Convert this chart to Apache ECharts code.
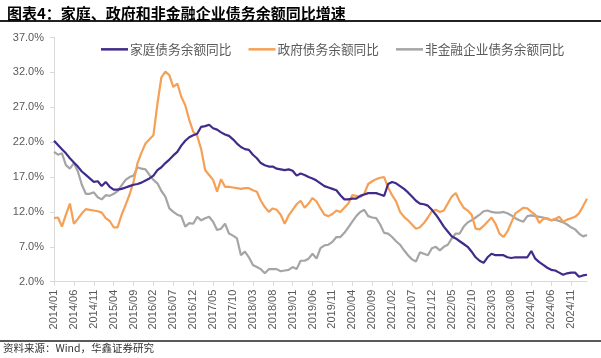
<!DOCTYPE html>
<html><head><meta charset="utf-8">
<script src="https://cdn.jsdelivr.net/npm/echarts@6/dist/echarts.min.js"></script>
<style>html,body{margin:0;padding:0;background:#fff}#c{width:601px;height:358px}</style>
</head><body><div id="c"></div>
<script>
// Categories: monthly 2014/01 .. 2025/03
const categories = [];
for (let y = 2014; y <= 2025; y++) {
  for (let m = 1; m <= 12; m++) {
    if (y === 2025 && m > 3) break;
    categories.push(y + '/' + (m < 10 ? '0' + m : m));
  }
}
const seriesNames = ['家庭债务余额同比', '政府债务余额同比', '非金融企业债务余额同比'];
const household = [22.2,21.6,21.0,20.4,19.7,19.1,18.5,17.8,17.3,16.8,16.3,16.4,15.7,16.3,15.6,15.2,15.2,15.3,15.5,15.7,15.9,16.0,16.2,16.5,16.8,17.2,18.0,18.4,19.0,19.5,20.1,20.6,21.5,22.2,22.7,23.0,23.2,24.2,24.3,24.5,24.0,23.8,23.4,23.1,22.9,22.4,21.8,21.3,21.0,20.9,20.2,19.7,19.0,18.7,18.5,18.5,18.2,18.1,18.0,18.1,17.9,17.2,17.5,17.3,17.0,16.8,16.5,16.1,15.7,15.5,15.3,15.1,14.4,13.8,13.8,13.9,13.9,14.3,14.5,14.7,14.7,14.7,14.5,14.3,16.0,16.3,16.1,15.7,15.3,14.8,14.2,13.6,13.2,13.1,12.9,12.3,11.6,10.8,9.9,9.2,8.5,8.2,7.8,7.4,7.0,6.3,5.5,5.0,4.7,5.5,6.0,5.8,5.8,5.8,5.5,5.4,5.5,5.5,5.5,5.5,6.4,5.3,4.8,4.4,4.0,3.7,3.6,3.3,3.0,3.2,3.3,3.3,2.7,2.9,3.0];
const government = [11.1,11.2,9.9,11.6,13.2,10.3,11.0,11.8,12.4,12.3,12.2,12.1,11.9,11.1,10.7,9.8,9.8,11.6,13.0,14.5,16.3,19.0,20.5,21.8,22.4,23.0,27.5,31.3,32.1,31.6,29.9,30.4,28.5,27.3,25.2,23.5,22.9,21.0,18.0,17.3,16.6,14.9,16.7,15.6,15.6,15.5,15.4,15.3,15.4,15.4,15.1,14.9,13.6,12.7,12.0,12.5,12.3,11.6,10.3,11.5,12.3,13.1,13.6,12.6,13.2,14.0,13.5,12.5,11.6,11.4,11.7,12.2,12.0,12.6,13.2,14.4,14.3,14.1,14.6,16.0,16.4,16.7,16.9,17.0,15.5,14.4,13.5,12.0,11.3,10.8,10.2,9.6,9.8,10.4,11.2,12.1,12.3,12.0,12.2,13.2,14.2,14.7,13.5,12.6,12.2,11.6,9.6,9.5,10.0,10.6,11.2,10.3,8.9,8.4,9.2,10.5,11.8,12.2,12.6,12.5,12.0,11.6,10.4,11.0,11.1,10.8,11.0,11.3,10.6,10.9,11.1,11.3,11.8,12.8,13.9];
const corporate = [20.6,20.2,20.4,18.7,18.2,19.0,17.8,15.9,14.6,14.6,14.8,14.1,13.8,14.4,14.3,14.6,15.0,15.8,16.6,17.0,17.2,18.4,18.2,18.1,17.3,16.6,16.1,15.0,14.2,12.5,12.0,11.6,11.4,9.9,10.4,10.3,11.3,10.8,11.1,11.3,10.6,9.4,9.6,10.3,8.9,8.6,8.2,5.8,6.3,5.5,4.4,4.1,3.8,3.2,3.8,3.8,3.8,3.5,3.6,3.7,4.1,3.8,5.0,5.0,5.3,6.0,5.3,6.8,7.2,7.3,7.7,8.4,8.4,9.0,9.8,10.6,11.4,12.0,12.3,11.4,11.2,11.1,10.2,9.0,8.9,8.4,7.8,7.3,6.5,5.8,5.2,4.9,6.2,6.0,5.8,6.8,7.0,6.5,7.0,7.3,8.2,8.9,8.9,9.9,10.5,10.8,11.2,11.6,12.1,12.2,12.0,11.9,11.9,12.0,11.8,11.5,11.1,10.8,10.6,11.4,11.5,11.4,11.3,11.2,11.0,10.8,10.9,10.7,10.5,10.2,9.8,9.5,8.9,8.5,8.7];
const titleText = '图表4：家庭、政府和非金融企业债务余额同比增速';
const sourceText = '资料来源：Wind，华鑫证券研究';

const chart = echarts.init(document.getElementById('c'), null, {renderer: 'canvas'});
const colors = ['#402a8a', '#f5a055', '#a5a5a5'];
const lbl = {fontFamily: 'Liberation Sans, Arial, sans-serif', fontSize: 11, color: '#595959'};
chart.setOption({
  animation: false,
  backgroundColor: '#fff',
  color: colors,
  title: {
    text: titleText, left: 2, top: 1,
    textStyle: {fontFamily: 'Noto Sans CJK SC', fontWeight: 'bold', fontSize: 15, color: '#000'}
  },
  graphic: [
    {type: 'line', shape: {x1: 0, y1: 21, x2: 601, y2: 21}, style: {stroke: '#222', lineWidth: 2}},
    {type: 'line', shape: {x1: 0, y1: 341, x2: 601, y2: 341}, style: {stroke: '#222', lineWidth: 1.5}},
    {type: 'text', left: 3, top: 343, style: {text: sourceText, fontFamily: 'Noto Sans CJK SC', fontSize: 10.5, fill: '#333'}}
  ],
  legend: {
    left: 96, top: 38, icon: 'rect', itemWidth: 27, itemHeight: 2.5, itemGap: 17,
    data: seriesNames,
    textStyle: {fontFamily: 'Noto Sans CJK SC', fontSize: 12.7, color: '#595959', padding: [0, 0, 0, -3]}
  },
  grid: {left: 54, right: 14, top: 37.5, bottom: 76.3, containLabel: false},
  xAxis: {
    type: 'category', data: categories, boundaryGap: false,
    axisLine: {lineStyle: {color: '#d9d9d9', width: 1}},
    axisTick: {show: true, interval: 4, length: 4, lineStyle: {color: '#d9d9d9'}},
    axisLabel: Object.assign({interval: 4, rotate: 90, margin: 8}, lbl),
    splitLine: {show: false}
  },
  yAxis: {
    type: 'value', min: 2, max: 37, interval: 5,
    axisLine: {show: true, lineStyle: {color: '#d9d9d9', width: 1}},
    axisTick: {show: true, length: 4, lineStyle: {color: '#d9d9d9'}},
    axisLabel: Object.assign({margin: 10, formatter: v => v.toFixed(1) + '%'}, lbl),
    splitLine: {show: false}
  },
  series: [
    {name: seriesNames[0], type: 'line', data: household, symbol: 'none', lineStyle: {width: 2.2, color: colors[0]}, z: 3},
    {name: seriesNames[1], type: 'line', data: government, symbol: 'none', lineStyle: {width: 2.2, color: colors[1]}, z: 2},
    {name: seriesNames[2], type: 'line', data: corporate, symbol: 'none', lineStyle: {width: 2.2, color: colors[2]}, z: 1}
  ]
});
</script></body></html>
